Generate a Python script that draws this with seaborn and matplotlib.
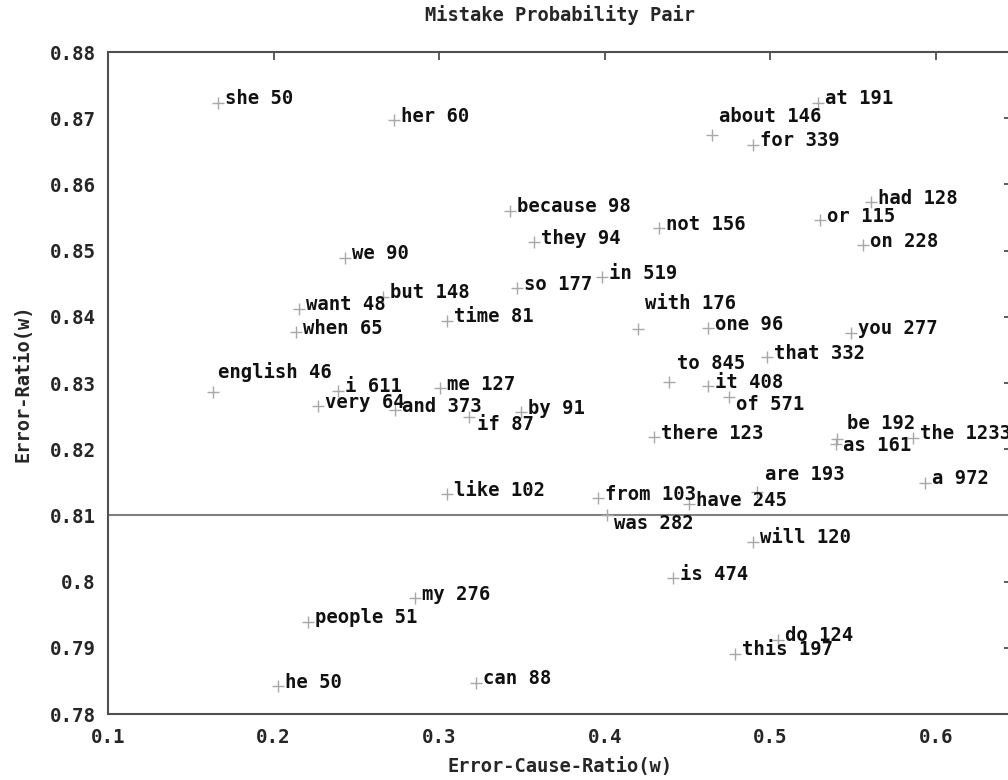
import seaborn as sns
import matplotlib.pyplot as plt
import pandas as pd

# Data
words = ["she", "her", "at", "about", "for", "because", "had", "or", "not", "they",
         "on", "we", "in", "so", "but", "want", "with", "one", "time", "when",
         "you", "that", "to", "english", "it", "i", "me", "of", "very", "and",
         "by", "if", "be", "as", "the", "there", "are", "a", "like", "from",
         "have", "was", "will", "is", "my", "people", "do", "this", "he", "can"]
counts = [50, 60, 191, 146, 339, 98, 128, 115, 156, 94,
          228, 90, 519, 177, 148, 48, 176, 96, 81, 65,
          277, 332, 845, 46, 408, 611, 127, 571, 64, 373,
          91, 87, 192, 161, 1233, 123, 193, 972, 102, 103,
          245, 282, 120, 474, 276, 51, 124, 197, 50, 88]
cause_ratio = [0.1666, 0.2725, 0.5286, 0.4650, 0.4898, 0.3427, 0.5607, 0.5298, 0.4329, 0.3573,
               0.5558, 0.2429, 0.3984, 0.3470, 0.2659, 0.2156, 0.4202, 0.4626, 0.3046, 0.2138,
               0.5486, 0.4977, 0.4390, 0.1636, 0.4626, 0.2387, 0.3004, 0.4753, 0.2271, 0.2731,
               0.3494, 0.3179, 0.5404, 0.5398, 0.5861, 0.4299, 0.4917, 0.5933, 0.3046, 0.3960,
               0.4511, 0.4015, 0.4898, 0.4414, 0.2852, 0.2205, 0.5044, 0.4789, 0.2029, 0.3222]
error_ratio = [0.8723, 0.8697, 0.8723, 0.8675, 0.8660, 0.8560, 0.8573, 0.8546, 0.8534, 0.8513,
               0.8508, 0.8489, 0.8460, 0.8443, 0.8430, 0.8412, 0.8382, 0.8383, 0.8394, 0.8377,
               0.8376, 0.8339, 0.8301, 0.8286, 0.8295, 0.8288, 0.8292, 0.8279, 0.8265, 0.8259,
               0.8256, 0.8249, 0.8216, 0.8208, 0.8217, 0.8218, 0.8135, 0.8149, 0.8132, 0.8126,
               0.8117, 0.8101, 0.8060, 0.8005, 0.7975, 0.7939, 0.7912, 0.7891, 0.7842, 0.7847]
threshold = 0.81

x_ticks = [0.1, 0.2, 0.3, 0.4, 0.5, 0.6]
y_ticks = [0.78, 0.79, 0.8, 0.81, 0.82, 0.83, 0.84, 0.85, 0.86, 0.87, 0.88]

# label nudges in pixels (x right, y up); everything else uses the default
default_nudge = (7, 4)
nudges = {"about": (7, 18), "english": (5, 20), "with": (7, 25), "to": (8, 19),
          "be": (10, 15), "are": (8, 18), "of": (7, -8), "if": (8, -8),
          "was": (7, -9), "as": (7, -2)}

if __name__ == "__main__":
    sns.set_style("white")
    plt.rcParams["font.family"] = ["DejaVu Sans Mono"]

    df = pd.DataFrame({"word": words, "count": counts,
                       "x": cause_ratio, "y": error_ratio})

    fig = plt.figure(figsize=(10.08, 7.8), dpi=100)
    ax = fig.add_axes([0.1071, 0.0846, 0.897, 0.8487])

    ax.axhline(threshold, color="#808080", lw=1.5, zorder=1)
    sns.scatterplot(data=df, x="x", y="y", marker="+", s=70, color="#a8a8a8",
                    linewidth=1.0, ax=ax, zorder=2)

    px = 0.72  # points per pixel at 100 dpi
    for _, r in df.iterrows():
        dx, dy = nudges.get(r["word"], default_nudge)
        ax.annotate(f"{r['word']} {r['count']}", (r["x"], r["y"]),
                    xytext=(dx * px, dy * px), textcoords="offset points",
                    ha="left", va="center", fontsize=13.6, fontweight="bold",
                    color="#111111", zorder=3)

    ax.set_xlim(0.1, 0.646)
    ax.set_ylim(0.78, 0.88)
    ax.set_xticks(x_ticks)
    ax.set_yticks(y_ticks)
    ax.set_xticklabels([f"{v:g}" for v in x_ticks])
    ax.set_yticklabels([f"{v:g}" for v in y_ticks])
    ax.tick_params(direction="in", length=6, width=1.2, color="#404040",
                   top=True, right=True, labelsize=13.8)
    ax.tick_params(axis="x", pad=10)
    ax.tick_params(axis="y", pad=9)
    for lab in ax.get_xticklabels() + ax.get_yticklabels():
        lab.set_fontweight("bold")
    for sp in ax.spines.values():
        sp.set_color("#505050")
        sp.set_linewidth(1.5)

    ax.set_xlabel("Error-Cause-Ratio(w)", fontsize=13.5, fontweight="bold", labelpad=7)
    ax.set_ylabel("Error-Ratio(w)", fontsize=13.5, fontweight="bold", labelpad=12)
    ax.set_title("Mistake Probability Pair", fontsize=13.5, fontweight="bold", pad=22)

    fig.savefig("out.png", dpi=100)
